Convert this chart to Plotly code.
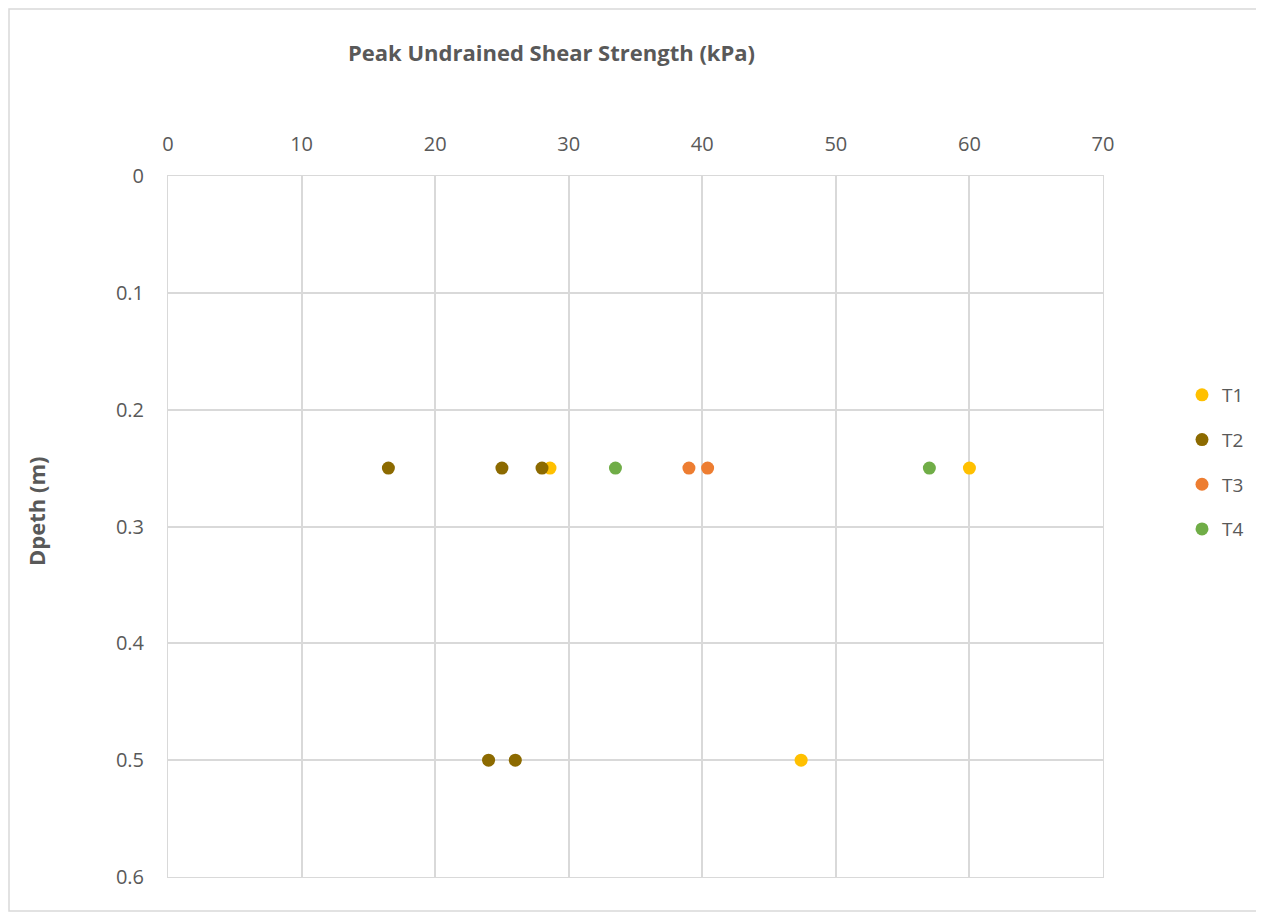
import plotly.graph_objects as go

series = ["T1", "T2", "T3", "T4"]
colors = ["#FFC000", "#8C6A00", "#ED7D31", "#70AD47"]
strength = {
    "T1": [28.6, 60.0, 47.4],
    "T2": [16.5, 25.0, 28.0, 24.0, 26.0],
    "T3": [39.0, 40.4],
    "T4": [33.5, 57.0],
}
depth = {
    "T1": [0.25, 0.25, 0.5],
    "T2": [0.25, 0.25, 0.25, 0.5, 0.5],
    "T3": [0.25, 0.25],
    "T4": [0.25, 0.25],
}
x_ticks = [0, 10, 20, 30, 40, 50, 60, 70]
y_ticks = [0, 0.1, 0.2, 0.3, 0.4, 0.5, 0.6]

fig = go.Figure()
for name, col in zip(series, colors):
    fig.add_trace(go.Scatter(
        x=strength[name], y=depth[name], mode="markers", name=name,
        legendgroup=name,
        marker=dict(size=13, color=col, line=dict(width=0)),
    ))

# page body has an 8px margin; plot area target (page px): x 168-1103, y 176-877
PW, PH = 935, 701
font_family = "Open Sans, Segoe UI, Arial, sans-serif"
grid = "#D9D9D9"
fig.update_layout(
    width=1256, height=909,
    margin=dict(l=160, r=161, t=168, b=40),
    paper_bgcolor="white", plot_bgcolor="white",
    font=dict(family=font_family, size=19, color="#595959"),
    showlegend=True,
    legend=dict(x=(1182 - 168) / PW, y=(877 - 462) / PH, xanchor="left", yanchor="middle",
                font=dict(size=19, color="#595959"), tracegroupgap=17,
                itemwidth=30),
    xaxis=dict(side="top", range=[0, 70], tickvals=x_ticks,
               showgrid=True, gridcolor=grid, gridwidth=1.5,
               zeroline=False, showline=True, linecolor=grid, mirror=True,
               ticks="", ticklabelstandoff=16,
               tickfont=dict(size=20, color="#595959")),
    yaxis=dict(range=[0.6, 0], tickvals=y_ticks,
               ticktext=[str(v) for v in y_ticks],
               showgrid=True, gridcolor=grid, gridwidth=1.5,
               zeroline=False, showline=True, linecolor=grid, mirror=True,
               ticks="", ticklabelstandoff=19,
               tickfont=dict(size=20, color="#595959")),
    annotations=[
        dict(text="<b>Peak Undrained Shear Strength (kPa)</b>",
             xref="paper", yref="paper", x=(551 - 168) / PW, y=1 + (176 - 52) / PH,
             xanchor="center", yanchor="middle", showarrow=False,
             font=dict(size=22, color="#595959")),
        dict(text="<b>Dpeth (m)</b>", textangle=-90,
             xref="paper", yref="paper", x=(36 - 168) / PW, y=(877 - 512) / PH,
             xanchor="center", yanchor="middle", showarrow=False,
             font=dict(size=22, color="#595959")),
    ],
    shapes=[dict(type="rect", xref="paper", yref="paper",
                 x0=(9 - 168) / PW, x1=(1258 - 168) / PW,
                 y0=(877 - 911) / PH, y1=1 + (176 - 9) / PH,
                 line=dict(color="#D9D9D9", width=1.5), layer="below")],
)

fig.write_html("out.html")
